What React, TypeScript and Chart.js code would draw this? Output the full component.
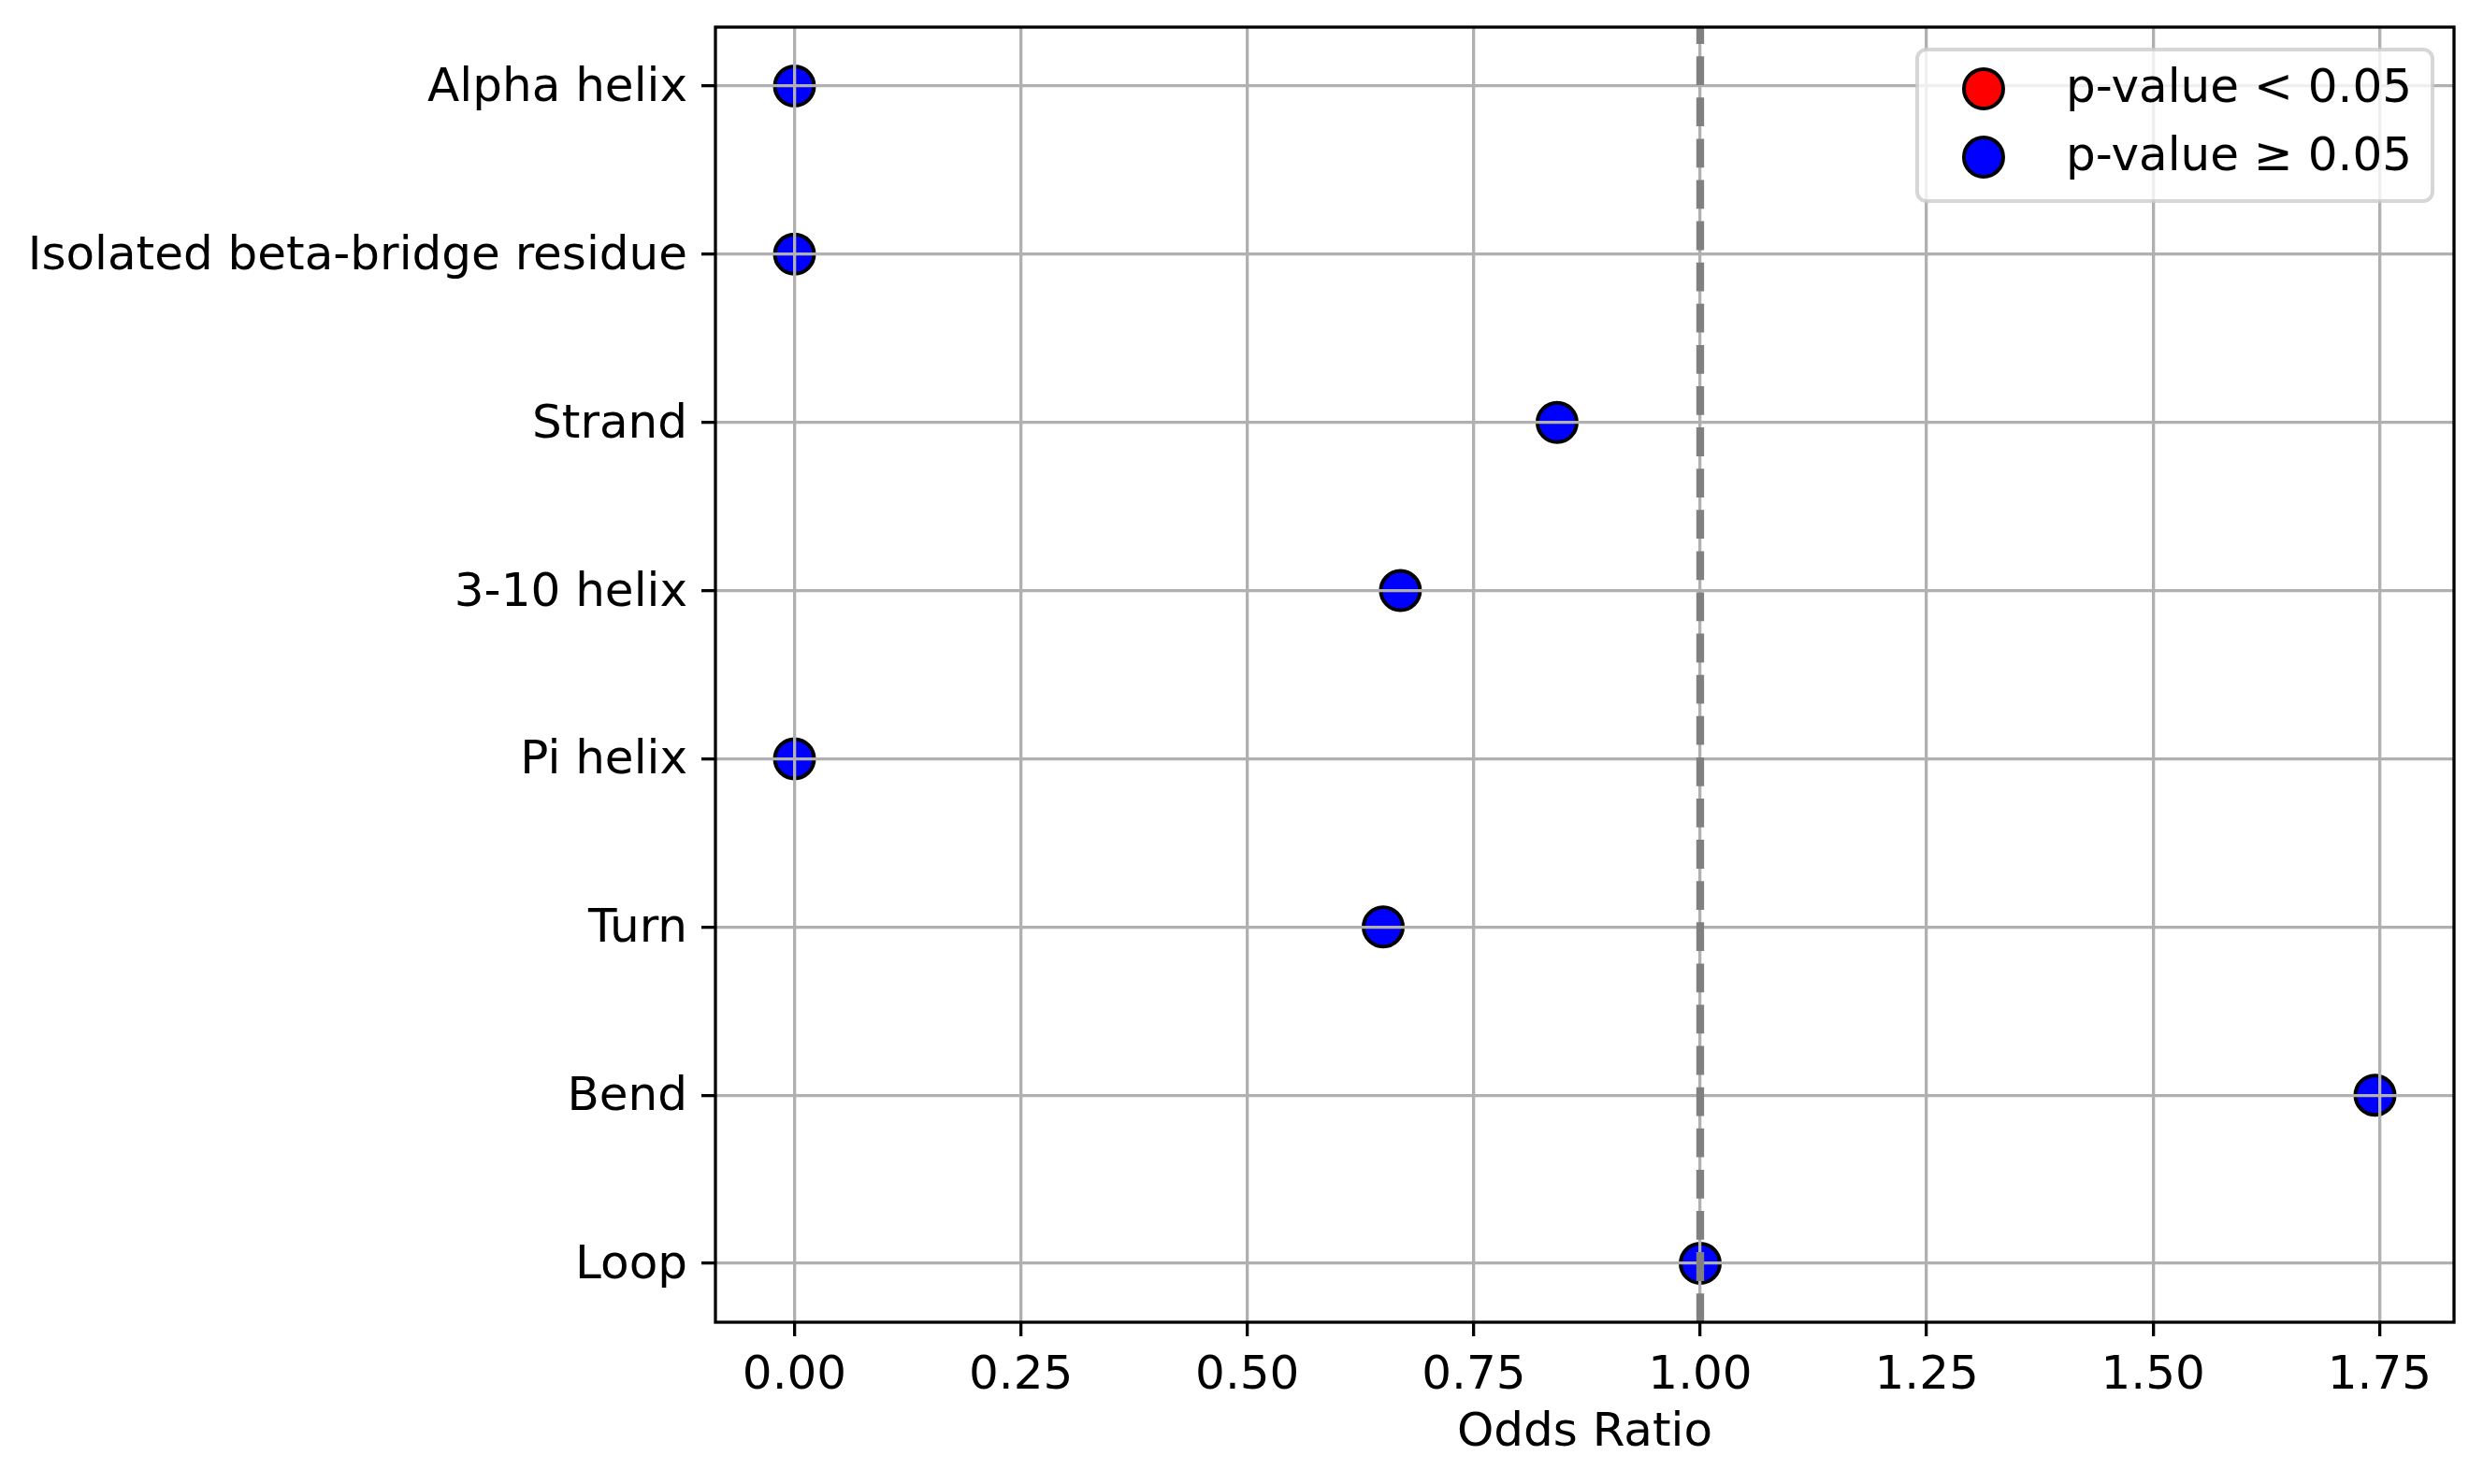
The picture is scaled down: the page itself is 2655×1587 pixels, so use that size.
import React, { useEffect, useRef } from "react";
import { Chart, registerables } from "chart.js";

Chart.register(...registerables);

const categories = [
  "Alpha helix",
  "Isolated beta-bridge residue",
  "Strand",
  "3-10 helix",
  "Pi helix",
  "Turn",
  "Bend",
  "Loop",
];
const oddsRatios = [0, 0, 0.842, 0.669, 0, 0.65, 1.745, 1.0];
const significant = [false, false, false, false, false, false, false, false];
const xTicks = [0, 0.25, 0.5, 0.75, 1.0, 1.25, 1.5, 1.75];
const legendLabels = ["p-value < 0.05", "p-value \u2265 0.05"];
const referenceLine = 1.0;

const W = 2655;
const H = 1587;
const FONT = '"DejaVu Sans", "Liberation Sans", sans-serif';
const FS = 50;

const overlayPlugin = {
  id: "overlay",
  afterDraw(chart: any) {
    const { ctx, chartArea: a, scales } = chart;
    const x = scales.x;
    ctx.save();
    // reference dashed line
    const px = x.getPixelForValue(referenceLine);
    ctx.strokeStyle = "#808080";
    ctx.lineWidth = 8.3;
    ctx.setLineDash([30.8, 13.3]);
    ctx.beginPath();
    ctx.moveTo(px, a.bottom);
    ctx.lineTo(px, a.top);
    ctx.stroke();
    ctx.setLineDash([]);
    // spines
    ctx.strokeStyle = "#000";
    ctx.lineWidth = 3.3;
    ctx.strokeRect(a.left, a.top, a.right - a.left, a.bottom - a.top);
    // legend
    ctx.font = `${FS}px ${FONT}`;
    const items = chart.data.datasets.map((d: any) => ({
      label: d.label,
      color: d.backgroundColor,
    }));
    const textW = Math.max(...items.map((i: any) => ctx.measureText(i.label).width));
    const right = a.right - 23;
    const top = a.top + 24;
    const left = right - 22 - textW - 159;
    const h = 162;
    const r = 10;
    ctx.beginPath();
    ctx.moveTo(left + r, top);
    ctx.lineTo(right - r, top);
    ctx.arcTo(right, top, right, top + r, r);
    ctx.lineTo(right, top + h - r);
    ctx.arcTo(right, top + h, right - r, top + h, r);
    ctx.lineTo(left + r, top + h);
    ctx.arcTo(left, top + h, left, top + h - r, r);
    ctx.lineTo(left, top + r);
    ctx.arcTo(left, top, left + r, top, r);
    ctx.closePath();
    ctx.fillStyle = "rgba(255,255,255,0.8)";
    ctx.fill();
    ctx.strokeStyle = "rgba(204,204,204,0.8)";
    ctx.lineWidth = 4;
    ctx.stroke();
    items.forEach((it: any, k: number) => {
      const cy = top + 42 + k * 73;
      ctx.beginPath();
      ctx.arc(left + 71, cy, 21, 0, Math.PI * 2);
      ctx.fillStyle = it.color;
      ctx.fill();
      ctx.strokeStyle = "#000";
      ctx.lineWidth = 4;
      ctx.stroke();
      ctx.fillStyle = "#000";
      ctx.textAlign = "left";
      ctx.textBaseline = "middle";
      ctx.fillText(it.label, left + 159, cy + 1);
    });
    ctx.restore();
  },
};

export default function App() {
  const ref = useRef<HTMLCanvasElement | null>(null);
  useEffect(() => {
    document.body.style.margin = "0";
    const canvas = ref.current!;
    const sigData = categories
      .map((_, i) => (significant[i] ? { x: oddsRatios[i], y: i } : null))
      .filter(Boolean);
    const nsData = categories
      .map((_, i) => (!significant[i] ? { x: oddsRatios[i], y: i } : null))
      .filter(Boolean);
    const font = { family: FONT, size: FS };
    const chart = new Chart(canvas, {
      type: "scatter",
      data: {
        datasets: [
          {
            label: legendLabels[0],
            data: sigData as any,
            backgroundColor: "#ff0000",
            borderColor: "#000000",
            borderWidth: 4,
            pointRadius: 21,
            pointHoverRadius: 21,
          },
          {
            label: legendLabels[1],
            data: nsData as any,
            backgroundColor: "#0000ff",
            borderColor: "#000000",
            borderWidth: 4,
            pointRadius: 21,
            pointHoverRadius: 21,
          },
        ],
      },
      options: {
        animation: false,
        responsive: false,
        devicePixelRatio: 1,
        layout: { padding: { left: 0, top: 29, right: 31, bottom: 0 } },
        plugins: {
          legend: { display: false },
          tooltip: { enabled: false },
        },
        scales: {
          x: {
            type: "linear",
            min: -0.08725,
            max: 1.83225,
            afterBuildTicks: (s: any) => {
              s.ticks = xTicks.map((v) => ({ value: v }));
            },
            afterFit: (s: any) => {
              s.height = 173;
              s.paddingLeft = 0;
              s.paddingRight = 0;
            },
            grid: {
              z: 1,
              color: "#b0b0b0",
              lineWidth: 3.3,
              tickColor: "#000",
              tickLength: 15,
              tickWidth: 3.3,
            },
            border: { display: false },
            ticks: {
              font,
              color: "#000",
              padding: 13,
              maxRotation: 0,
              autoSkip: false,
              callback: (v: any) => Number(v).toFixed(2),
            },
            title: {
              display: true,
              text: "Odds Ratio",
              font,
              color: "#000",
              padding: { top: 0, bottom: 24 },
            },
          },
          y: {
            type: "linear",
            position: "left",
            min: -0.35,
            max: categories.length - 1 + 0.35,
            reverse: true,
            afterBuildTicks: (s: any) => {
              s.ticks = categories.map((_, i) => ({ value: i }));
            },
            afterFit: (s: any) => {
              s.width = 765;
              s.paddingTop = 0;
              s.paddingBottom = 0;
            },
            grid: {
              z: 1,
              color: "#b0b0b0",
              lineWidth: 3.3,
              tickColor: "#000",
              tickLength: 15,
              tickWidth: 3.3,
            },
            border: { display: false },
            ticks: {
              font,
              color: "#000",
              padding: 15,
              labelOffset: 3,
              autoSkip: false,
              callback: (v: any) => categories[Math.round(Number(v))] ?? "",
            },
          },
        },
      },
      plugins: [overlayPlugin],
    });
    return () => chart.destroy();
  }, []);
  return (
    <canvas
      ref={ref}
      width={W}
      height={H}
      style={{ display: "block", width: W + "px", height: H + "px" }}
    />
  );
}
